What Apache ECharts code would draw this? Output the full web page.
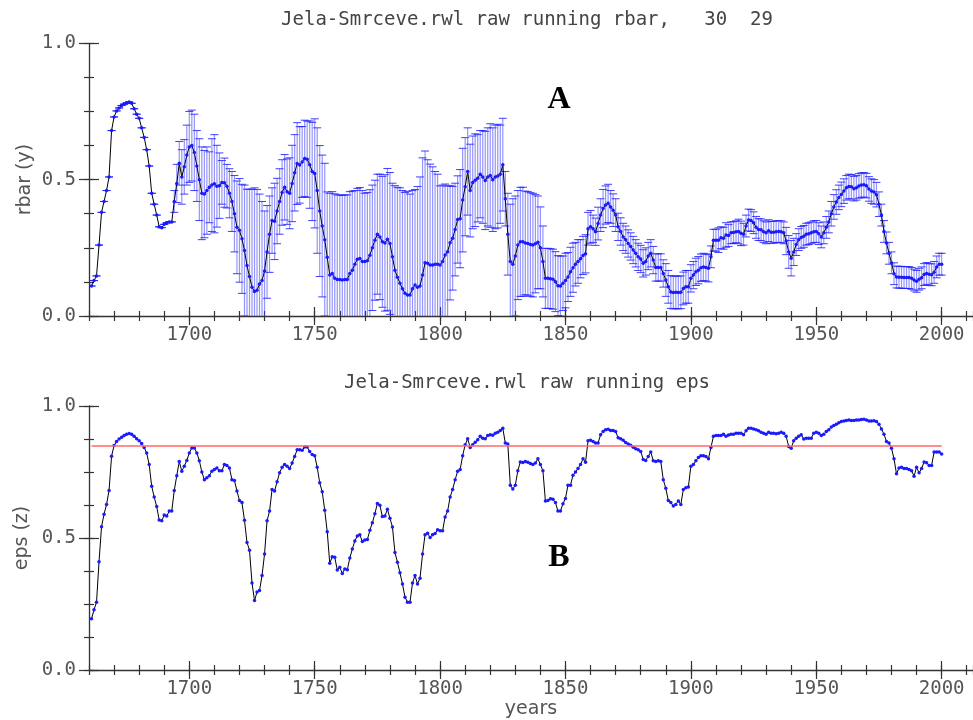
<!DOCTYPE html>
<html><head><meta charset="utf-8">
<script src="https://cdn.jsdelivr.net/npm/echarts@6/dist/echarts.min.js"></script>
<style>html,body{margin:0;padding:0;background:#fff}#c{width:973px;height:720px}</style>
</head><body><div id="c"></div>
<script>
// ---------- data ----------
const FIRST_YEAR = 1661;           // first year of the running series (yearly, to 2000)
const rbar = [
0.11,0.13,0.147,0.26,0.38,0.42,0.46,0.51,0.68,0.73,
0.752,0.763,0.772,0.777,0.781,0.785,0.78,0.76,0.74,0.725,
0.69,0.655,0.61,0.55,0.45,0.41,0.37,0.327,0.324,0.336,
0.342,0.345,0.345,0.42,0.486,0.56,0.51,0.547,0.59,0.62,
0.625,0.60,0.55,0.50,0.45,0.447,0.46,0.472,0.48,0.485,
0.476,0.478,0.49,0.489,0.476,0.45,0.42,0.375,0.325,0.314,
0.283,0.24,0.185,0.145,0.105,0.09,0.094,0.117,0.13,0.165,
0.235,0.30,0.35,0.347,0.385,0.42,0.453,0.472,0.456,0.45,
0.486,0.525,0.559,0.554,0.565,0.578,0.575,0.555,0.53,0.523,
0.46,0.385,0.33,0.28,0.215,0.15,0.156,0.138,0.134,0.134,
0.132,0.134,0.134,0.156,0.168,0.19,0.208,0.211,0.2,0.2,
0.203,0.223,0.25,0.278,0.30,0.29,0.272,0.268,0.281,0.266,
0.217,0.168,0.142,0.12,0.10,0.083,0.077,0.077,0.10,0.114,
0.105,0.11,0.15,0.195,0.193,0.187,0.187,0.19,0.19,0.187,
0.20,0.224,0.236,0.269,0.285,0.317,0.354,0.357,0.425,0.474,
0.53,0.46,0.49,0.498,0.505,0.52,0.51,0.497,0.51,0.515,
0.50,0.51,0.513,0.52,0.555,0.43,0.30,0.20,0.19,0.22,
0.26,0.272,0.272,0.268,0.266,0.262,0.26,0.265,0.27,0.25,
0.20,0.138,0.138,0.137,0.135,0.126,0.111,0.11,0.12,0.13,
0.143,0.162,0.177,0.19,0.20,0.21,0.222,0.228,0.32,0.327,
0.32,0.309,0.339,0.37,0.394,0.407,0.413,0.40,0.388,0.37,
0.327,0.31,0.29,0.28,0.266,0.255,0.242,0.23,0.217,0.209,
0.193,0.20,0.22,0.23,0.205,0.178,0.178,0.178,0.156,0.132,
0.107,0.088,0.086,0.087,0.086,0.087,0.101,0.107,0.107,0.138,
0.15,0.162,0.168,0.177,0.18,0.178,0.175,0.217,0.278,0.278,
0.278,0.287,0.285,0.297,0.295,0.305,0.306,0.309,0.31,0.303,
0.30,0.33,0.352,0.35,0.342,0.325,0.317,0.316,0.309,0.305,
0.313,0.307,0.307,0.309,0.31,0.309,0.305,0.275,0.235,0.212,
0.235,0.262,0.28,0.288,0.292,0.30,0.302,0.305,0.309,0.31,
0.302,0.29,0.305,0.325,0.345,0.375,0.40,0.418,0.435,0.446,
0.458,0.47,0.475,0.474,0.467,0.47,0.477,0.48,0.481,0.478,
0.466,0.458,0.455,0.445,0.41,0.37,0.31,0.268,0.23,0.195,
0.155,0.143,0.142,0.142,0.141,0.141,0.141,0.138,0.132,0.127,
0.135,0.14,0.152,0.156,0.153,0.151,0.16,0.18,0.19,0.19
];
const rbarSd = [
0,0,0,0,0,0,0,0,0,0,
0,0,0,0,0,0,0,0,0,0,
0,0,0,0,0,0,0,0,0,0,
0,0,0,0.04,0.07,0.08,0.10,0.10,0.11,0.13,
0.13,0.14,0.13,0.15,0.17,0.16,0.16,0.13,0.17,0.18,
0.15,0.12,0.08,0.09,0.08,0.09,0.11,0.14,0.17,0.19,
0.20,0.24,0.28,0.32,0.36,0.38,0.37,0.33,0.29,0.22,
0.17,0.14,0.12,0.14,0.12,0.12,0.12,0.12,0.12,0.13,
0.14,0.14,0.15,0.14,0.13,0.14,0.14,0.16,0.18,0.20,
0.23,0.24,0.26,0.28,0.24,0.30,0.30,0.31,0.31,0.31,
0.31,0.31,0.31,0.30,0.29,0.27,0.26,0.26,0.26,0.25,
0.25,0.24,0.23,0.22,0.22,0.23,0.24,0.25,0.26,0.26,
0.27,0.31,0.33,0.35,0.36,0.37,0.38,0.37,0.36,0.35,
0.37,0.40,0.43,0.41,0.38,0.37,0.36,0.34,0.33,0.29,
0.28,0.26,0.24,0.21,0.19,0.17,0.16,0.18,0.19,0.18,
0.16,0.17,0.17,0.17,0.16,0.16,0.17,0.18,0.18,0.19,
0.19,0.19,0.19,0.18,0.17,0.10,0.15,0.21,0.24,0.22,
0.20,0.20,0.20,0.19,0.19,0.19,0.19,0.18,0.17,0.15,
0.13,0.11,0.11,0.11,0.11,0.11,0.11,0.11,0.10,0.10,
0.09,0.09,0.09,0.08,0.08,0.07,0.07,0.07,0.06,0.06,
0.05,0.05,0.06,0.06,0.07,0.07,0.07,0.06,0.06,0.06,
0.05,0.05,0.05,0.05,0.05,0.05,0.05,0.05,0.05,0.05,
0.05,0.05,0.05,0.05,0.05,0.05,0.05,0.05,0.05,0.06,
0.06,0.06,0.06,0.06,0.06,0.06,0.06,0.06,0.06,0.05,
0.05,0.05,0.05,0.05,0.05,0.05,0.05,0.04,0.04,0.04,
0.045,0.04,0.04,0.045,0.04,0.04,0.04,0.04,0.045,0.045,
0.04,0.04,0.04,0.04,0.04,0.04,0.04,0.04,0.04,0.04,
0.04,0.04,0.04,0.04,0.04,0.04,0.04,0.05,0.06,0.065,
0.05,0.04,0.04,0.04,0.04,0.04,0.04,0.04,0.04,0.04,
0.04,0.04,0.04,0.04,0.04,0.045,0.045,0.045,0.045,0.045,
0.045,0.045,0.045,0.045,0.045,0.045,0.045,0.045,0.045,0.045,
0.045,0.045,0.045,0.045,0.045,0.04,0.04,0.04,0.04,0.04,
0.04,0.04,0.04,0.04,0.04,0.04,0.04,0.04,0.04,0.04,
0.04,0.04,0.04,0.04,0.04,0.04,0.04,0.04,0.04,0.04
];
const eps = [
0.194,0.228,0.257,0.41,0.543,0.59,0.627,0.68,0.81,0.85,
0.866,0.875,0.882,0.888,0.893,0.896,0.893,0.885,0.876,0.868,
0.858,0.843,0.822,0.778,0.696,0.655,0.619,0.568,0.565,0.587,
0.583,0.602,0.602,0.68,0.736,0.79,0.753,0.772,0.794,0.822,
0.841,0.841,0.822,0.793,0.75,0.721,0.728,0.736,0.753,0.759,
0.765,0.755,0.755,0.778,0.775,0.765,0.721,0.718,0.678,0.642,
0.634,0.567,0.483,0.454,0.33,0.263,0.295,0.301,0.358,0.439,
0.565,0.602,0.684,0.678,0.713,0.747,0.768,0.778,0.772,0.763,
0.784,0.809,0.834,0.834,0.832,0.845,0.845,0.828,0.816,0.812,
0.768,0.709,0.675,0.605,0.524,0.404,0.429,0.427,0.379,0.389,
0.366,0.383,0.38,0.424,0.458,0.489,0.508,0.512,0.487,0.492,
0.494,0.529,0.558,0.592,0.631,0.624,0.581,0.583,0.609,0.575,
0.542,0.445,0.408,0.368,0.326,0.276,0.257,0.257,0.33,0.358,
0.326,0.348,0.439,0.512,0.518,0.502,0.512,0.517,0.531,0.527,
0.527,0.58,0.602,0.655,0.684,0.721,0.753,0.759,0.812,0.853,
0.876,0.843,0.853,0.863,0.872,0.885,0.878,0.876,0.888,0.891,
0.889,0.897,0.901,0.907,0.916,0.86,0.856,0.70,0.686,0.70,
0.755,0.788,0.786,0.79,0.787,0.782,0.778,0.784,0.80,0.778,
0.755,0.64,0.642,0.649,0.647,0.634,0.602,0.602,0.63,0.65,
0.70,0.70,0.738,0.75,0.763,0.778,0.80,0.787,0.868,0.87,
0.866,0.86,0.86,0.891,0.903,0.91,0.912,0.907,0.907,0.903,
0.88,0.876,0.87,0.862,0.856,0.851,0.844,0.838,0.834,0.828,
0.797,0.794,0.809,0.826,0.793,0.79,0.793,0.79,0.721,0.688,
0.642,0.634,0.621,0.627,0.64,0.627,0.684,0.69,0.693,0.772,
0.778,0.793,0.805,0.812,0.812,0.809,0.80,0.843,0.885,0.888,
0.888,0.888,0.893,0.885,0.89,0.893,0.893,0.897,0.897,0.897,
0.891,0.906,0.916,0.916,0.913,0.91,0.906,0.901,0.897,0.893,
0.901,0.897,0.897,0.895,0.897,0.901,0.897,0.885,0.847,0.84,
0.868,0.878,0.885,0.891,0.875,0.878,0.878,0.878,0.897,0.901,
0.897,0.888,0.893,0.903,0.91,0.92,0.926,0.931,0.937,0.941,
0.943,0.945,0.947,0.945,0.945,0.947,0.947,0.949,0.95,0.947,
0.943,0.943,0.944,0.941,0.931,0.913,0.893,0.866,0.86,0.84,
0.80,0.743,0.765,0.768,0.763,0.763,0.759,0.755,0.734,0.768,
0.747,0.763,0.788,0.785,0.775,0.775,0.826,0.826,0.826,0.818
];
const EPS_REF = 0.85;
const xMajorTicks = [1700, 1750, 1800, 1850, 1900, 1950, 2000];
const yMajorTicks = [0, 0.5, 1.0];
const titleTop = 'Jela-Smrceve.rwl raw running rbar,   30  29';
const titleBottom = 'Jela-Smrceve.rwl raw running eps';
const yNameTop = 'rbar (y)', yNameBottom = 'eps (z)', xName = 'years';
const panelLetters = ['A', 'B'];

// ---------- styling ----------
const AX = '#333', LBL = '#555';
const MONO = '"DejaVu Sans Mono", monospace';
const SANS = '"DejaVu Sans", sans-serif';
const X_MIN = 1660, X_MAX = 2012.5;

const lastYear = FIRST_YEAR + rbar.length - 1;
const rbarPts = rbar.map((v, i) => [FIRST_YEAR + i, v]);
const errPts = rbar.map((v, i) => [FIRST_YEAR + i, v - rbarSd[i], v + rbarSd[i]]);
const epsPts = eps.map((v, i) => [FIRST_YEAR + i, v]);

function xAxes(g, name) {
  const base = {type: 'value', gridIndex: g, min: X_MIN, max: X_MAX, position: 'bottom',
    splitLine: {show: false}, axisLabel: {show: false}, axisLine: {show: false}};
  const tl = {color: AX, width: 1.2};
  return [
    Object.assign({}, base, {interval: 10,
      axisLine: {show: true, onZero: false, lineStyle: {color: AX, width: 1.3}},
      axisTick: {show: true, length: 5, inside: false, lineStyle: tl},
      name: name || '', nameLocation: 'middle', nameGap: 30,
      nameTextStyle: {color: LBL, fontFamily: SANS, fontSize: 19}}),
    Object.assign({}, base, {interval: 10, axisTick: {show: true, length: 5, inside: true, lineStyle: tl}}),
    Object.assign({}, base, {
      axisTick: {show: true, length: 9, inside: false, customValues: xMajorTicks, lineStyle: tl},
      axisLabel: {show: true, customValues: xMajorTicks, margin: 10, color: LBL, fontFamily: MONO, fontSize: 19,
        formatter: v => String(v)}}),
    Object.assign({}, base, {axisTick: {show: true, length: 9, inside: true, customValues: xMajorTicks, lineStyle: tl}})
  ];
}
function yAxes(g, name, gap) {
  const base = {type: 'value', gridIndex: g, min: 0, max: 1, position: 'left',
    splitLine: {show: false}, axisLabel: {show: false}, axisLine: {show: false}};
  const tl = {color: AX, width: 1.2};
  return [
    Object.assign({}, base, {interval: 0.125,
      axisLine: {show: true, onZero: false, lineStyle: {color: AX, width: 1.3}},
      axisTick: {show: true, length: 5, inside: false, lineStyle: tl},
      name: name, nameLocation: 'middle', nameGap: gap, nameRotate: 90,
      nameTextStyle: {color: LBL, fontFamily: SANS, fontSize: 19}}),
    Object.assign({}, base, {interval: 0.125, axisTick: {show: true, length: 5, inside: true, lineStyle: tl}}),
    Object.assign({}, base, {
      axisTick: {show: true, length: 10, inside: false, customValues: yMajorTicks, lineStyle: tl},
      axisLabel: {show: true, customValues: yMajorTicks, margin: 13, color: LBL, fontFamily: MONO, fontSize: 19,
        formatter: v => Number(v).toFixed(1)}}),
    Object.assign({}, base, {axisTick: {show: true, length: 10, inside: true, customValues: yMajorTicks, lineStyle: tl}})
  ];
}

const chart = echarts.init(document.getElementById('c'), null, {renderer: 'canvas'});
chart.setOption({
  animation: false,
  backgroundColor: '#fff',
  grid: [
    {left: 89, top: 43.3, width: 884, height: 272.7},
    {left: 89, top: 406, width: 884, height: 265.7}
  ],
  xAxis: xAxes(0, '').concat(xAxes(1, xName)),
  yAxis: yAxes(0, yNameTop, 54).concat(yAxes(1, yNameBottom, 57)),
  graphic: [
    {type: 'text', x: 527, y: 20, style: {text: titleTop, fill: '#444', font: '19px ' + MONO, align: 'center', verticalAlign: 'middle', textAlign: 'center', textVerticalAlign: 'middle'}},
    {type: 'text', x: 527, y: 383, style: {text: titleBottom, fill: '#444', font: '19px ' + MONO, align: 'center', verticalAlign: 'middle', textAlign: 'center', textVerticalAlign: 'middle'}},
    {type: 'text', x: 559, y: 100, style: {text: panelLetters[0], fill: '#000', font: 'bold 32px "Liberation Serif", serif', align: 'center', verticalAlign: 'middle', textAlign: 'center', textVerticalAlign: 'middle'}},
    {type: 'text', x: 559, y: 558, style: {text: panelLetters[1], fill: '#000', font: 'bold 32px "Liberation Serif", serif', align: 'center', verticalAlign: 'middle', textAlign: 'center', textVerticalAlign: 'middle'}}
  ],
  series: [
    {
      type: 'custom', xAxisIndex: 0, yAxisIndex: 0, clip: true, z: 2, silent: true,
      encode: {x: 0, y: [1, 2]},
      data: errPts,
      renderItem: function (params, api) {
        const x = api.value(0), lo = api.value(1), hi = api.value(2);
        const pH = api.coord([x, hi]), pL = api.coord([x, lo]);
        const c = 4;
        return {type: 'group', children: [
          {type: 'line', shape: {x1: pH[0], y1: pH[1], x2: pL[0], y2: pL[1]}, style: {stroke: 'rgba(60,60,255,0.55)', lineWidth: 1.2}},
          {type: 'line', shape: {x1: pH[0] - c, y1: pH[1], x2: pH[0] + c, y2: pH[1]}, style: {stroke: 'rgba(30,30,255,0.85)', lineWidth: 1}},
          {type: 'line', shape: {x1: pL[0] - c, y1: pL[1], x2: pL[0] + c, y2: pL[1]}, style: {stroke: 'rgba(30,30,255,0.85)', lineWidth: 1}}
        ]};
      }
    },
    {
      type: 'line', xAxisIndex: 0, yAxisIndex: 0, data: rbarPts, z: 3,
      showAllSymbol: true, symbol: 'circle', symbolSize: 3.5,
      itemStyle: {color: '#1a1aff'}, lineStyle: {color: '#000', width: 1}
    },
    {
      type: 'line', xAxisIndex: 4, yAxisIndex: 4, data: epsPts, z: 3,
      showAllSymbol: true, symbol: 'circle', symbolSize: 3.5,
      itemStyle: {color: '#1a1aff'}, lineStyle: {color: '#000', width: 1},
      markLine: {silent: true, symbol: 'none', label: {show: false},
        lineStyle: {color: '#ff6a6a', width: 1.5, type: 'solid'},
        data: [[{coord: [FIRST_YEAR, EPS_REF]}, {coord: [lastYear, EPS_REF]}]]}
    }
  ]
});
</script>
</body></html>
